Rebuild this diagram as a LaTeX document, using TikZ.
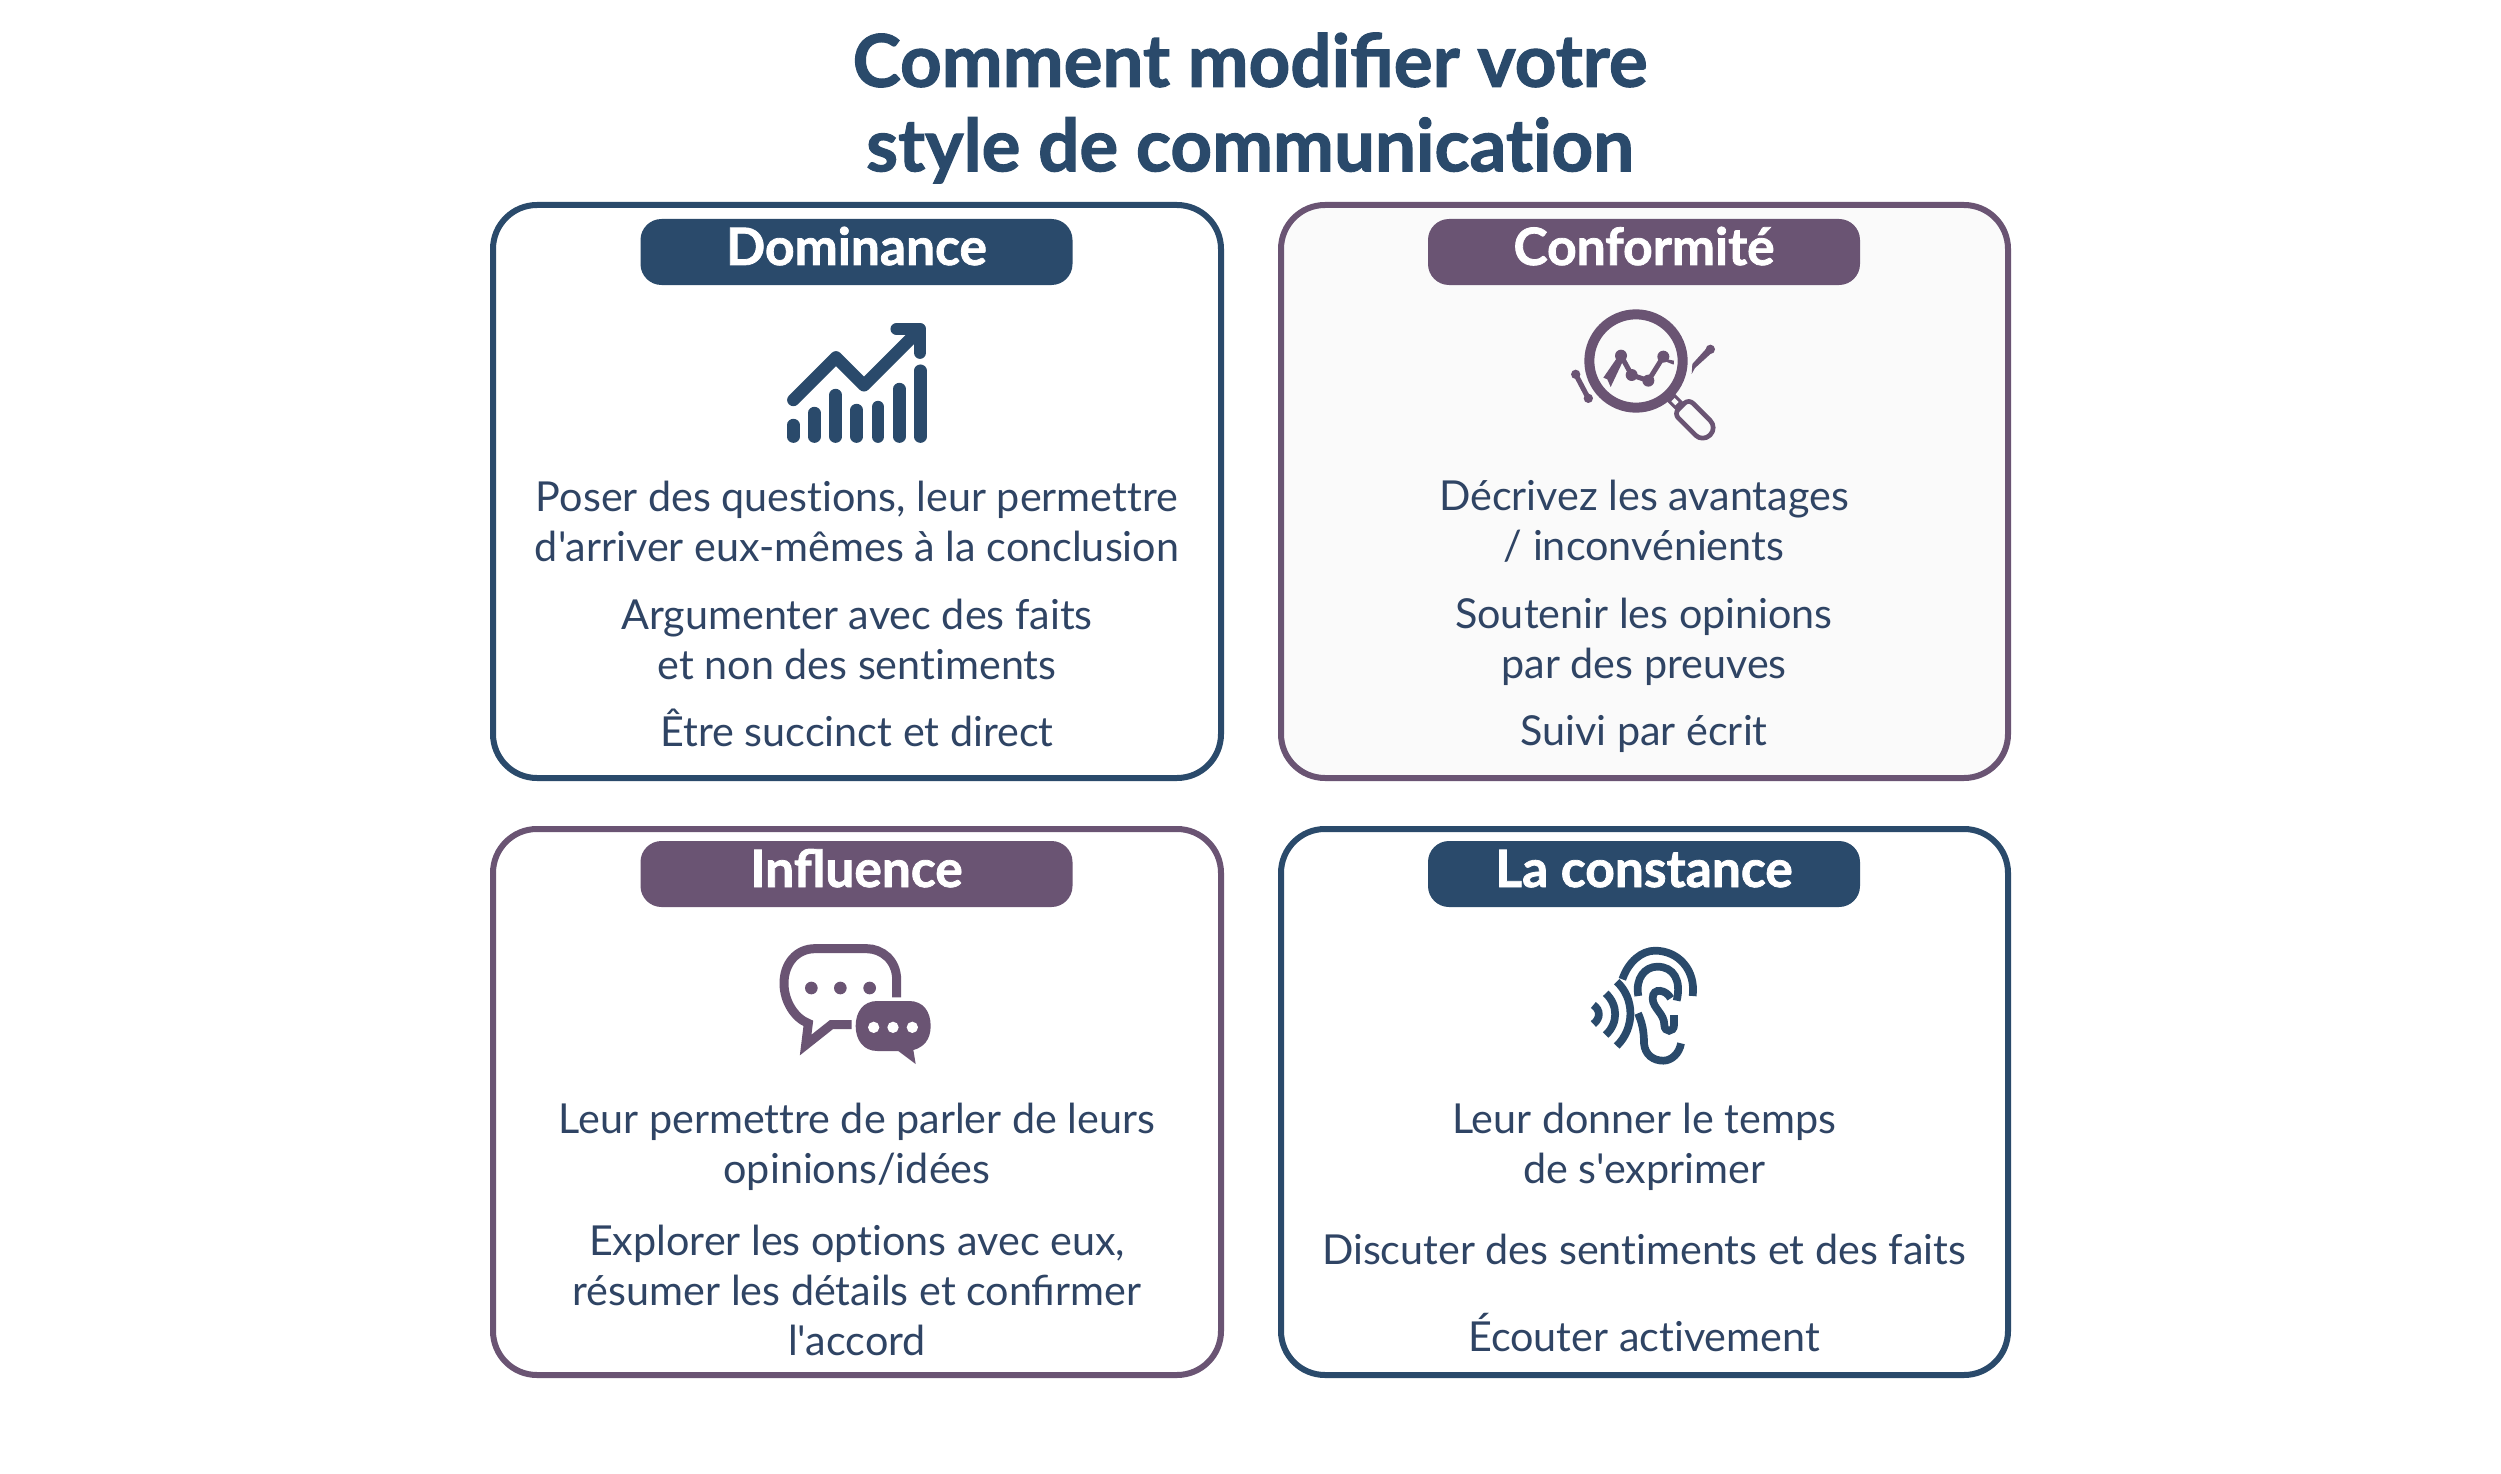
\documentclass[tikz,border=0pt]{standalone}
\usepackage{fontspec}
\setmainfont{Lato}[Ligatures=TeXOff]
\newfontfamily\heavyfont{Lato}[Ligatures=TeXOff,BoldFeatures={FakeBold=1.5}]
\newcommand\nl{\kern0pt }
\definecolor{navy}{HTML}{2A4A6B}
\definecolor{plum}{HTML}{6A5473}
\definecolor{inkb}{HTML}{2F4464}
\definecolor{pale}{HTML}{FAFAFA}
\tikzset{
  x=1pt,y=-1pt,
  card/.style={line width=6pt,rounded corners=44pt},
  pill/.style={rounded corners=21pt,minimum width=432pt,minimum height=66pt,inner sep=0pt,text=white,text height=36pt,text depth=10pt,font=\fontsize{51.5}{60}\selectfont\heavyfont\bfseries},
  body/.style={align=center,inner sep=0pt,text=inkb,font=\fontsize{41.3}{50}\selectfont},
  ttl/.style={align=center,inner sep=0pt,text=navy,font=\fontsize{72.7}{84.5}\selectfont\heavyfont\bfseries},
  ic/.style={line cap=round,line join=round},
}
\begin{document}
\begin{tikzpicture}
\useasboundingbox (0,0) rectangle (2501,1474);
\fill[white] (0,0) rectangle (2501,1474);
\node[ttl] (title) at (1250,108) {Comment modifier votre\\style de communicat\nl ion};
% cards
\draw[card,navy] (493,205) rectangle (1221,778);
\draw[card,plum,fill=pale] (1281,205) rectangle (2008,778);
\draw[card,plum] (493,829) rectangle (1221,1375);
\draw[card,navy] (1281,829) rectangle (2008,1375);
% pills
\node[pill,fill=navy] (p1) at (856.5,252) {Dominance};
\node[pill,fill=plum] (p2) at (1644,252) {Conformité};
\node[pill,fill=plum] (p3) at (856.5,874) {Influence};
\node[pill,fill=navy] (p4) at (1644,874) {La constance};
% texts
\node[body] (a1) at (857,521) {Poser des quest\nl ions, leur permet\nl tre\\d'arriver eux-mêmes à la conclusion};
\node[body] (a2) at (857,639) {Argumenter avec des faits\\et non des sent\nl iments};
\node[body] (a3) at (857,728) {Être succinct et direct};
\node[body] (b1) at (1644,521) {Décrivez les avantages\\/ inconvénients};
\node[body] (b2) at (1644,642) {Soutenir les opinions\\par des preuves};
\node[body] (b3) at (1644,734) {Suivi par écrit};
\node[body] (c1) at (857,1147) {Leur permet\nl tre de parler de leurs\\opinions/idées};
\node[body] (c2) at (857,1290) {Explorer les opt\nl ions avec eux,\\résumer les détails et confirmer\\l'accord};
\node[body] (d1) at (1644,1147) {Leur donner le temps\\de s'exprimer};
\node[body] (d2) at (1644,1249) {Discuter des sent\nl iments et des faits};
\node[body] (d3) at (1644,1333) {Écouter act\nl ivement};
% icon: chart
\begin{scope}[shift={(760,300)},scale=1/3]
  \foreach \xx/\yy in {100/375,163/339,227/285,290/330,354/321,418/267,481/212}
    \draw[navy,ic,line width=12.4pt] (\xx,\yy) -- (\xx,410);
  \draw[navy,ic,line width=12.4pt] (100,300) -- (228,172) -- (312,256) -- (470,98);
  \draw[navy,ic,line width=12.4pt,line join=round] (410,87) -- (480,87) -- (480,158);
\end{scope}
% icon: magnifier
\begin{scope}[shift={(1550,290)},scale=1/3]
  \draw[plum,line width=10pt] (258,213) circle (140);
  \draw[plum,ic,line width=5pt] (213,197) -- (245,255) -- (295,272) -- (340,200);
  \fill[plum] (213,197) circle (18) (245,255) circle (18) (295,272) circle (18) (340,200) circle (18);
  \fill[plum] (200,205) -- (160,263) -- (172,268) -- (182,291) -- (218,215) -- cycle;
  \fill[plum] (335,190) -- (352,208) -- (372,212) -- (371,224) -- (335,210) -- cycle;
  \fill[plum] (77,253) circle (14) (115,325) circle (14);
  \fill[plum] (70,256) -- (84,250) -- (122,322) -- (108,328) -- cycle;
  \fill[plum] (481,178) circle (14);
  \fill[plum] (474,170) -- (488,186) -- (435,234) -- (425,252) -- (427,222) -- cycle;
  \draw[plum,line width=11pt] (358,318) -- (392,352);
  \draw[pale,line width=4.5pt] (369,329) -- (381,341);
  \draw[plum,line width=4.7pt,fill=pale,line join=round]
    [rounded corners=6pt] (416,327) -- (372,371)
    [rounded corners=10pt] -- (458,457) -- (502,413)
    [rounded corners=6pt] -- cycle;
\end{scope}
% icon: bubbles
\begin{scope}[shift={(760,930)},scale=1/3]
  \draw[plum,line width=9pt,miter limit=10]
    (410,202) -- (410,150) .. controls (410,90) and (365,56) .. (320,56)
    -- (165,56) .. controls (110,56) and (72,100) .. (72,160)
    .. controls (72,215) and (105,265) .. (145,280)
    -- (137,345) -- (214,284) -- (275,284);
  \fill[plum] (154,174) circle (19) (241,174) circle (19) (329,174) circle (19);
  \fill[plum] (352,213) -- (447,213) .. controls (490,213) and (512,245) .. (512,288)
    .. controls (512,330) and (490,352) .. (460,360) -- (467,402) -- (415,363)
    -- (352,363) .. controls (310,363) and (287,330) .. (287,288)
    .. controls (287,245) and (310,213) .. (352,213) -- cycle;
  \fill[white] (341,292) circle (17) (399,292) circle (17) (457,292) circle (17);
\end{scope}
% icon: ear
\begin{scope}[shift={(1570,930)},scale=1/3]
  \begin{scope}[navy,line width=7.7pt]
  \draw (368,198) .. controls (378,120) and (325,62) .. (255,62) .. controls (215,62) and (175,95) .. (157,148);
  \draw (204,250) .. controls (215,275) and (222,300) .. (222,340) .. controls (225,375) and (250,392) .. (280,392) .. controls (305,392) and (328,370) .. (333,340);
  \draw (205,198) .. controls (195,145) and (225,110) .. (262,110) .. controls (310,110) and (335,150) .. (320,212);
  \draw (302,205) .. controls (290,180) and (248,170) .. (248,205) .. controls (248,235) and (283,250) .. (283,285) .. controls (283,308) and (312,308) .. (312,285) -- (312,255);
  \draw (70,225) .. controls (92,240) and (92,265) .. (70,282);
  \draw (107,190) .. controls (145,225) and (145,280) .. (107,315);
  \draw (140,155) .. controls (195,205) and (195,295) .. (140,348);
  \end{scope}
\end{scope}
\end{tikzpicture}
\end{document}
